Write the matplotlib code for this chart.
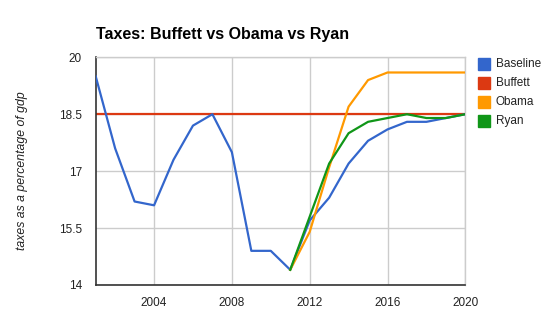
import matplotlib
matplotlib.use("Agg")
import matplotlib.pyplot as plt

years = list(range(2001, 2021))
baseline = [19.5, 17.6, 16.2, 16.1, 17.3, 18.2, 18.5, 17.5, 14.9, 14.9,
            14.4, 15.7, 16.3, 17.2, 17.8, 18.1, 18.3, 18.3, 18.4, 18.5]
buffett = [18.5] * 20
obama_years = list(range(2011, 2021))
obama = [14.4, 15.4, 17.1, 18.7, 19.4, 19.6, 19.6, 19.6, 19.6, 19.6]
ryan = [14.4, 15.8, 17.2, 18.0, 18.3, 18.4, 18.5, 18.4, 18.4, 18.5]

series = [("Baseline", "#3366cc"), ("Buffett", "#dc3912"),
          ("Obama", "#ff9900"), ("Ryan", "#109618")]

plt.rcParams['font.family'] = ['Liberation Sans', 'DejaVu Sans']

fig = plt.figure(figsize=(5.57, 3.26), dpi=100)
ax = fig.add_axes([0.1718, 0.1258, 0.8354 - 0.1718, 0.8242 - 0.1258])

ax.plot(years, baseline, color=series[0][1], lw=1.6, zorder=3)
ax.plot(years, buffett, color=series[1][1], lw=1.6, zorder=2)
ax.plot(obama_years, obama, color=series[2][1], lw=1.6, zorder=3)
ax.plot(obama_years, ryan, color=series[3][1], lw=1.6, zorder=4)

ax.set_xlim(2001, 2020)
ax.set_ylim(14, 20)
ax.set_xticks([2004, 2008, 2012, 2016, 2020])
ax.set_yticks([14, 15.5, 17, 18.5, 20])
ax.set_yticklabels(["14", "15.5", "17", "18.5", "20"])
ax.grid(True, color="#cccccc", lw=1)
ax.tick_params(length=0, labelsize=8.5, colors="#222222", pad=10)
ax.tick_params(axis='x', pad=9)
for s in ["top", "right"]:
    ax.spines[s].set_color("#cccccc")
    ax.spines[s].set_linewidth(1)
for s in ["left", "bottom"]:
    ax.spines[s].set_color("#333333")
    ax.spines[s].set_linewidth(1.2)
ax.set_axisbelow(True)

fig.text(0.1718, 0.895, "Taxes: Buffett vs Obama vs Ryan", fontsize=11.5,
         fontweight="bold", ha="left", va="center")
fig.text(0.040, 0.477, "taxes as a percentage of gdp", rotation=90,
         style="italic", fontsize=8.8, ha="center", va="center", color="#222222")

for i, (name, col) in enumerate(series):
    y = 64 + i * 19
    fig.patches.append(plt.Rectangle((478 / 557, 1 - (y + 6) / 326), 12 / 557, 12 / 326,
                                     transform=fig.transFigure, color=col))
    fig.text(496 / 557, 1 - y / 326, name, fontsize=8.5, va="center", ha="left",
             color="#222222")

fig.savefig("out.png", dpi=100)
